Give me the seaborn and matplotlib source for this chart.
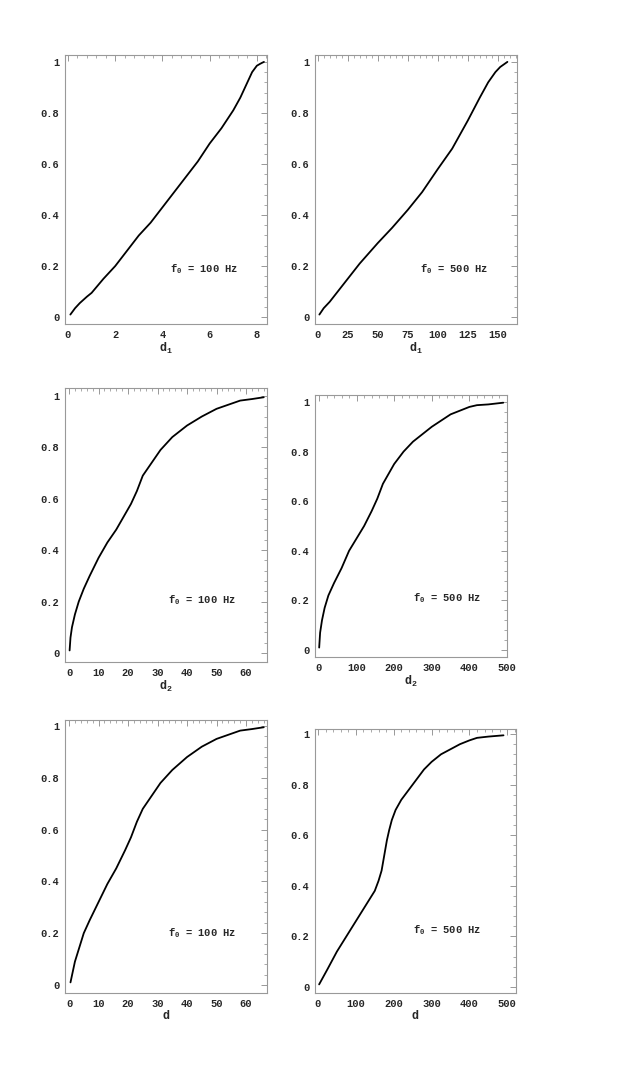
import numpy as np
import pandas as pd
import matplotlib
matplotlib.use("Agg")
import matplotlib.pyplot as plt
import seaborn as sns
from matplotlib.ticker import AutoMinorLocator, FixedLocator

# ---- data ----
d1_100_x = [0.1, 0.3, 0.5, 0.8, 1, 1.5, 2, 2.5, 3, 3.5, 4, 4.5, 5, 5.5, 6, 6.5, 7, 7.3, 7.6, 7.8, 8.0, 8.15, 8.3]
d1_100_y = [0.01, 0.035, 0.055, 0.08, 0.095, 0.15, 0.20, 0.26, 0.32, 0.37, 0.43, 0.49, 0.55, 0.61, 0.68, 0.74, 0.81, 0.86, 0.92, 0.96, 0.985, 0.993, 1.0]

d1_500_x = [1.4, 5, 10, 15, 20, 25, 35, 50, 62, 75, 87, 100, 112, 125, 135, 142, 148, 152, 155, 158]
d1_500_y = [0.01, 0.035, 0.06, 0.09, 0.12, 0.15, 0.21, 0.29, 0.35, 0.42, 0.49, 0.58, 0.66, 0.77, 0.86, 0.92, 0.96, 0.98, 0.99, 1.0]

d2_100_x = [0.2, 0.5, 1, 2, 3.3, 5, 7, 10, 13, 16, 19, 21, 23, 25, 28, 31, 35, 40, 45, 50, 55, 58, 62, 66]
d2_100_y = [0.01, 0.06, 0.10, 0.15, 0.20, 0.25, 0.30, 0.37, 0.43, 0.48, 0.54, 0.58, 0.63, 0.69, 0.74, 0.79, 0.84, 0.885, 0.92, 0.95, 0.97, 0.982, 0.988, 0.995]

d2_500_x = [0.5, 3, 8, 15, 25, 40, 60, 80, 100, 120, 140, 155, 170, 185, 200, 225, 250, 275, 300, 350, 400, 420, 450, 490]
d2_500_y = [0.01, 0.07, 0.12, 0.17, 0.22, 0.27, 0.33, 0.40, 0.45, 0.50, 0.56, 0.61, 0.67, 0.71, 0.75, 0.80, 0.84, 0.87, 0.90, 0.95, 0.98, 0.987, 0.99, 0.997]

d_100_x = [0.5, 2, 5, 7, 10, 13, 16, 19, 21, 23, 25, 28, 31, 35, 40, 45, 50, 55, 58, 62, 66]
d_100_y = [0.01, 0.09, 0.20, 0.25, 0.32, 0.39, 0.45, 0.52, 0.57, 0.63, 0.68, 0.73, 0.78, 0.83, 0.88, 0.92, 0.95, 0.97, 0.982, 0.988, 0.995]

d_500_x = [3, 25, 50, 75, 100, 125, 150, 160, 168, 175, 182, 188, 195, 205, 220, 240, 260, 280, 300, 325, 350, 375, 400, 420, 450, 490]
d_500_y = [0.01, 0.07, 0.14, 0.20, 0.26, 0.32, 0.38, 0.42, 0.46, 0.52, 0.58, 0.62, 0.66, 0.70, 0.74, 0.78, 0.82, 0.86, 0.89, 0.92, 0.94, 0.96, 0.975, 0.985, 0.99, 0.995]

x_ticks_d1_100 = [0, 2, 4, 6, 8]
x_ticks_d1_500 = [0, 25, 50, 75, 100, 125, 150]
x_ticks_100 = [0, 10, 20, 30, 40, 50, 60]
x_ticks_500 = [0, 100, 200, 300, 400, 500]
y_ticks = [0, 0.2, 0.4, 0.6, 0.8, 1.0]
y_tick_labels = ["0", "0.2", "0.4", "0.6", "0.8", "1"]

labels_100 = r"f$_0$ = 100 Hz"
labels_500 = r"f$_0$ = 500 Hz"

sns.set_theme(style="white")
plt.rcParams["font.family"] = ["Liberation Mono", "DejaVu Sans Mono"]
plt.rcParams["font.weight"] = "bold"
plt.rcParams["mathtext.fontset"] = "custom"
plt.rcParams["mathtext.rm"] = "Liberation Mono:bold"
plt.rcParams["mathtext.it"] = "Liberation Mono:bold"
plt.rcParams["mathtext.bf"] = "Liberation Mono:bold"

W, H = 638, 1073
fig = plt.figure(figsize=(W / 100, H / 100), dpi=100)

panels = [
    (d1_100_x, d1_100_y, x_ticks_d1_100, r"d$_1$", labels_100, (65, 267, 55, 324), (-0.127, 8.43), (-0.027, 1.027), (0.52, 0.204)),
    (d1_500_x, d1_500_y, x_ticks_d1_500, r"d$_1$", labels_500, (315, 517, 55, 324), (-2.25, 166), (-0.027, 1.027), (0.52, 0.204)),
    (d2_100_x, d2_100_y, x_ticks_100, r"d$_2$", labels_100, (65, 267, 388, 662), (-1.36, 67.1), (-0.035, 1.031), (0.51, 0.226)),
    (d2_500_x, d2_500_y, x_ticks_500, r"d$_2$", labels_500, (315, 507, 395, 657), (-10.6, 500), (-0.028, 1.028), (0.51, 0.225)),
    (d_100_x, d_100_y, x_ticks_100, "d", labels_100, (65, 267, 720, 993), (-1.36, 67.1), (-0.031, 1.023), (0.51, 0.22)),
    (d_500_x, d_500_y, x_ticks_500, "d", labels_500, (315, 516, 729, 993), (-7.9, 523), (-0.024, 1.02), (0.49, 0.24)),
]

for xs, ys, xt, xl, txt, (l, r, t, b), xlim, ylim, tpos in panels:
    ax = fig.add_axes([l / W, 1 - b / H, (r - l) / W, (b - t) / H])
    df = pd.DataFrame({"x": xs, "y": ys})
    sns.lineplot(data=df, x="x", y="y", ax=ax, color="black", lw=1.3)
    ax.set_xlim(*xlim)
    ax.set_ylim(*ylim)
    ax.xaxis.set_major_locator(FixedLocator(xt))
    ax.yaxis.set_major_locator(FixedLocator(y_ticks))
    ax.set_yticklabels(y_tick_labels)
    ax.xaxis.set_minor_locator(AutoMinorLocator(5))
    ax.yaxis.set_minor_locator(AutoMinorLocator(5))
    ax.tick_params(which="both", direction="in", top=True, right=True,
                   color="#888888", labelsize=7.5, pad=4)
    ax.tick_params(which="major", length=4, width=0.6)
    ax.tick_params(which="minor", length=2, width=0.5)
    for lab in ax.get_xticklabels() + ax.get_yticklabels():
        lab.set_fontweight("bold")
    for sp in ax.spines.values():
        sp.set_color("#999999")
        sp.set_linewidth(0.8)
    ax.set_xlabel(xl, fontsize=8.5, fontweight="bold", labelpad=1)
    ax.set_ylabel("")
    ax.text(tpos[0], tpos[1], txt, transform=ax.transAxes, fontsize=7.5,
            fontweight="bold", va="center", ha="left")

fig.savefig("out.png", dpi=100)
